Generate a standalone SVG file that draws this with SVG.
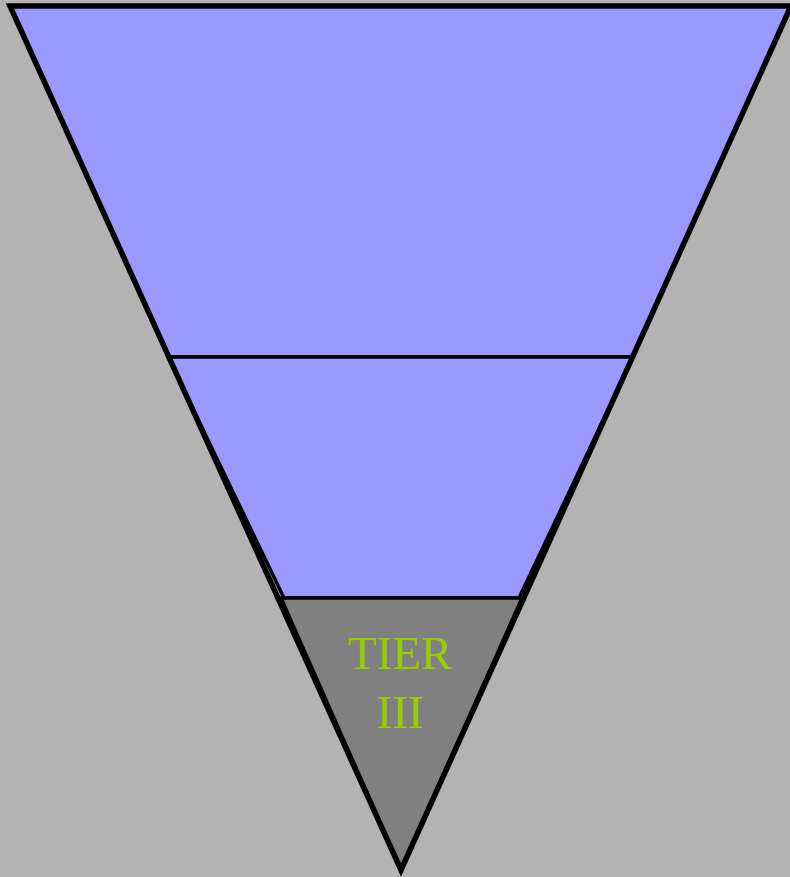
<svg xmlns="http://www.w3.org/2000/svg" width="790" height="877" viewBox="0 0 790 877">
<style>
.ln{stroke:#000;stroke-linejoin:miter;}
.blue{fill:#9999ff;}
.txt{font-family:"Liberation Serif",serif;font-size:47px;fill:#99cc00;text-anchor:middle;}
</style>
<rect x="0" y="0" width="790" height="877" fill="#b3b3b3"/>
<g id="tier1">
<polygon class="blue" points="10,6 791,6 401,870"/>
<line class="ln" x1="168" y1="357" x2="633" y2="357" stroke-width="3.5"/>
</g>
<g id="tier2">
<polygon class="blue ln" points="168,357 633,357 519,598 284,598" stroke-width="3.5"/>
</g>
<g id="tier3">
<polygon class="ln" points="281,598 522,598 401,870" fill="#808080" stroke-width="3.5"/>
<text class="txt" x="400" y="669">TIER</text>
<text class="txt" x="400" y="728">III</text>
</g>
<g id="outline">
<polygon class="ln" points="10,6 791,6 401,870" fill="none" stroke-width="5.5"/>
</g>
</svg>
